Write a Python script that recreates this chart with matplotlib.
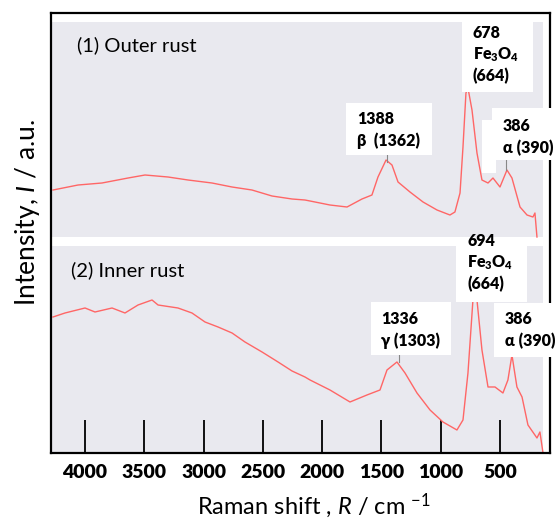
import matplotlib
matplotlib.use("Agg")
import matplotlib.pyplot as plt
from matplotlib.patches import Rectangle

plt.rcParams['font.family'] = ['Lato', 'DejaVu Sans']
plt.rcParams['mathtext.fontset'] = 'custom'
plt.rcParams['mathtext.rm'] = 'Lato'
plt.rcParams['mathtext.it'] = 'Lato:italic'
plt.rcParams['mathtext.bf'] = 'Lato:heavy'

# (1) outer rust, Raman shift (cm-1) and intensity (a.u., own baseline)
outer_x = [4270, 4059, 3857, 3637, 3494, 3300, 3131, 2929, 2760, 2592, 2423, 2254,
           2145, 2102, 1934, 1790, 1664, 1580, 1529, 1461, 1411, 1360, 1259, 1149,
           1031, 922, 880, 837, 812, 787, 770, 736, 694, 652, 601, 559, 500, 441,
           399, 331, 272, 222, 205, 188]
outer_y = [43, 48, 50, 55, 58, 56, 53, 50, 46, 43, 37, 34,
           33, 32, 28, 26, 34, 38, 56, 73, 68, 51, 41, 31,
           23, 18, 21, 40, 86, 140, 145, 123, 80, 53, 50, 55, 46, 63,
           55, 26, 18, 16, 20, -4]

# (2) inner rust
inner_x = [4270, 4169, 4000, 3916, 3772, 3663, 3553, 3435, 3384, 3216, 3098, 2988,
           2878, 2760, 2651, 2507, 2372, 2254, 2145, 2102, 1934, 1765, 1622, 1512,
           1453, 1369, 1301, 1200, 1090, 981, 863, 812, 770, 728, 712, 694, 652,
           601, 542, 475, 433, 399, 357, 314, 264, 188, 163, 137]
inner_y = [136, 140, 145, 141, 145, 140, 148, 153, 148, 145, 140, 131,
           126, 120, 111, 101, 91, 82, 76, 73, 63, 51, 58, 63,
           83, 91, 80, 60, 43, 31, 23, 33, 80, 153, 213, 153, 103,
           66, 66, 60, 73, 98, 66, 56, 28, 15, 21, 0]

offsets = [220, 0]
panel_names = ["(1) Outer rust", "(2) Inner rust"]
tick_vals = [4000, 3500, 3000, 2500, 2000, 1500, 1000, 500]

# peak labels: box (x0, x1, y0, y1), text x, first line y, lines
labels = [
    ((1799, 1073, 298, 350), 1706, 334, ["1388", "β  (1362)"]),
    ((820, 222, 361, 431), 728, 420, ["678", r"$\mathbf{Fe_3O_4}$", "(664)"]),
    ((567, 10, 293, 345), 475, 327, ["386", "α (390)"]),
    ((871, 272, 151, 216), 778, 212, ["694", r"$\mathbf{Fe_3O_4}$", "(664)"]),
    ((1588, 913, 98, 151), 1504, 134, ["1336", "γ (1303)"]),
    ((551, 10, 96, 150), 458, 134, ["386", "α (390)"]),
]
markers = [(1453, 291, 298), (449, 283, 293), (1352, 91, 98)]

fig = plt.figure(figsize=(5.55, 5.19), dpi=100)
ax = fig.add_axes([0.0919, 0.1272, 0.8991, 0.8483])
ax.set_facecolor('#e9e9ef')
ax.set_xlim(4287, 78)
ax.set_ylim(0, 440.3)

# white gaps of the scanned panel
ax.axhspan(207, 216, color='white', lw=0, zorder=1)
ax.axhspan(431, 441, color='white', lw=0, zorder=1)
ax.axvspan(137, 78, color='white', lw=0, zorder=1)

for xs, ys, off in [(outer_x, outer_y, offsets[0]), (inner_x, inner_y, offsets[1])]:
    ax.plot(xs, [v + off for v in ys], color='#ff6666', lw=1.0, zorder=2)

ax.text(4067, 408, panel_names[0], fontsize=14.5, va='center', zorder=5)
ax.text(4118, 183, panel_names[1], fontsize=14.5, va='center', zorder=5)

for (x0, x1, y0, y1), tx, ty, lines in labels:
    ax.add_patch(Rectangle((x0, y0), x1 - x0, y1 - y0, facecolor='white',
                           edgecolor='none', zorder=4, clip_on=False))
    for i, line in enumerate(lines):
        ax.text(tx, ty - 21.5 * i, line, fontsize=11.5, fontweight='heavy',
                va='center', ha='left', zorder=5, clip_on=False)
ax.add_patch(Rectangle((652, 280), -120, 53, facecolor='white', edgecolor='none', zorder=4))

for mx, y0, y1 in markers:
    ax.plot([mx, mx], [y0, y1], color='#888888', lw=0.8, zorder=3)

ax.tick_params(axis='x', direction='in', length=24, width=1.3, pad=8, labelsize=14)
ax.set_xticks(tick_vals)
ax.set_xticklabels([str(t) for t in tick_vals])
for lab in ax.get_xticklabels():
    lab.set_fontweight('heavy')
ax.set_yticks([])
for s in ax.spines.values():
    s.set_linewidth(1.6)

fig.text(0.565, 0.025, r"Raman shift , $\mathit{R}$ / cm $^{-1}$", fontsize=17,
         ha='center', va='center')
fig.text(0.049, 0.59, r"Intensity, $\mathit{I}$ / a.u.", fontsize=19, rotation=90,
         ha='center', va='center')

fig.savefig("out.png", dpi=100)
